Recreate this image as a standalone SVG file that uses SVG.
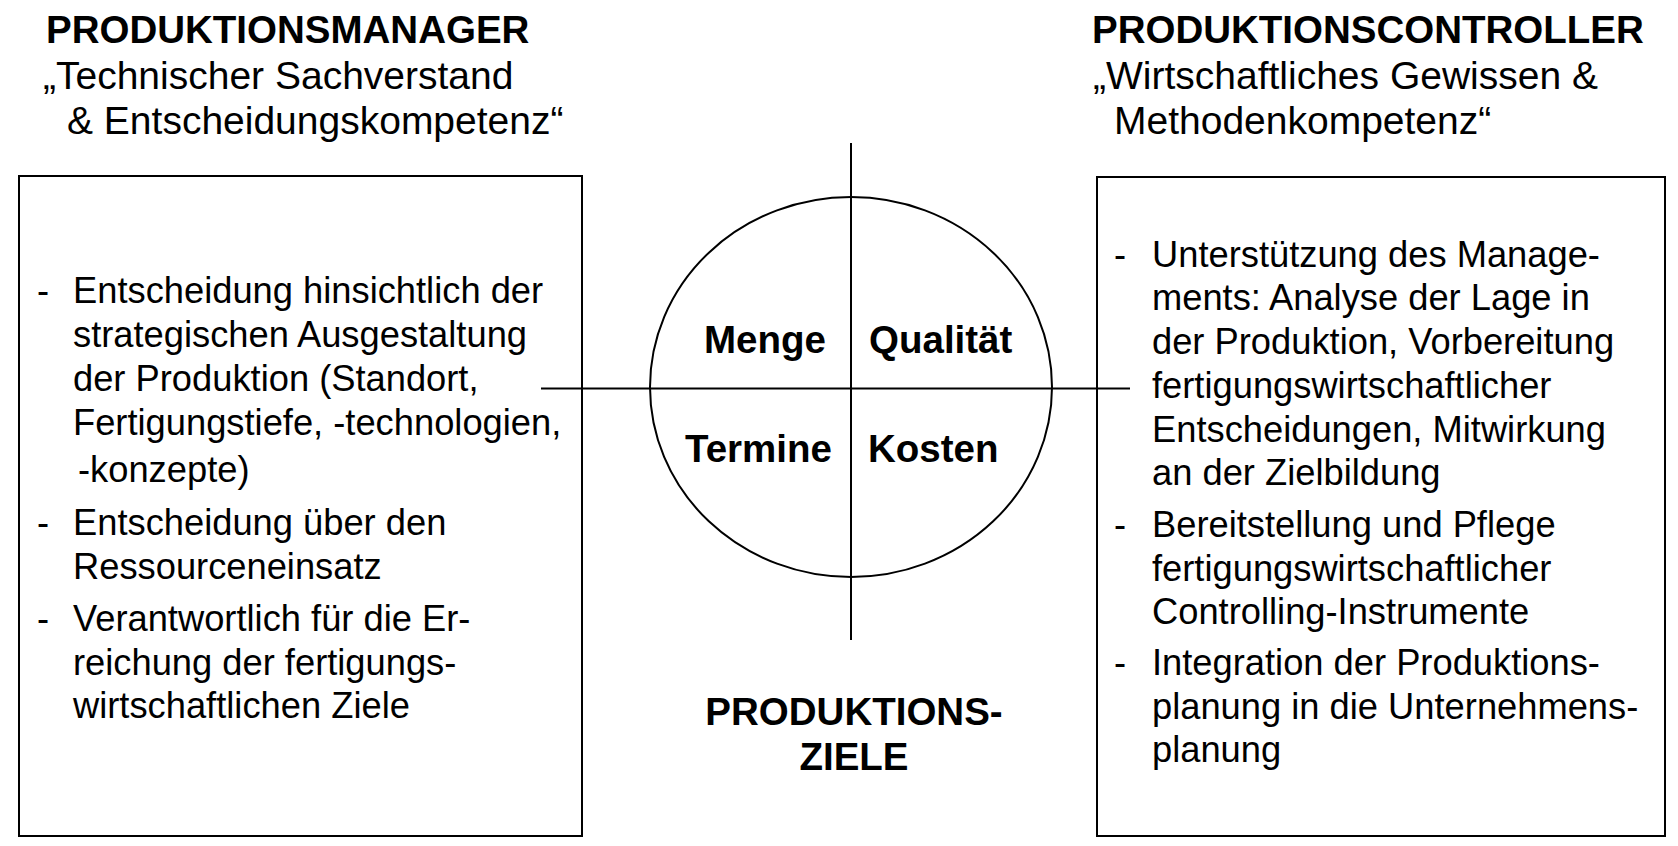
<svg xmlns="http://www.w3.org/2000/svg" width="1678" height="846" viewBox="0 0 1678 846">
<style>
text{font-family:"Liberation Sans",Arial,sans-serif;fill:#000}
.h{font-size:38.5px;font-weight:bold}
.s{font-size:39px}
.b{font-size:36.3px}
.q{font-size:38.5px;font-weight:bold}
.box{fill:none;stroke:#000;stroke-width:2}
.ln{fill:none;stroke:#000;stroke-width:2}
</style>
<rect width="1678" height="846" fill="#fff"/>
<g id="manager-header">
<text class="h" x="46" y="43">PRODUKTIONSMANAGER</text>
<text class="s" x="43" y="89">„Technischer Sachverstand</text>
<text class="s" x="67" y="134">&amp; Entscheidungskompetenz“</text>
</g>
<g id="controller-header">
<text class="h" x="1092" y="43">PRODUKTIONSCONTROLLER</text>
<text class="s" x="1093" y="89">„Wirtschaftliches Gewissen &amp;</text>
<text class="s" x="1114" y="134">Methodenkompetenz“</text>
</g>
<g id="connectors">
<line class="ln" x1="851" y1="143" x2="851" y2="640"/>
<line class="ln" x1="541" y1="388.5" x2="1130" y2="388.5"/>
</g>
<g id="manager-box">
<rect class="box" x="19" y="176" width="563" height="660"/>
<text class="b" x="37" y="303">-</text>
<text class="b" x="73" y="303">Entscheidung hinsichtlich der</text>
<text class="b" x="73" y="347">strategischen Ausgestaltung</text>
<text class="b" x="73" y="391">der Produktion (Standort,</text>
<text class="b" x="73" y="435">Fertigungstiefe, -technologien,</text>
<text class="b" x="78" y="482">-konzepte)</text>
<text class="b" x="37" y="535">-</text>
<text class="b" x="73" y="535">Entscheidung über den</text>
<text class="b" x="73" y="579">Ressourceneinsatz</text>
<text class="b" x="37" y="631">-</text>
<text class="b" x="73" y="631">Verantwortlich für die Er-</text>
<text class="b" x="73" y="675">reichung der fertigungs-</text>
<text class="b" x="73" y="718">wirtschaftlichen Ziele</text>
</g>
<g id="controller-box">
<rect class="box" x="1097" y="177" width="568" height="659"/>
<text class="b" x="1114" y="267">-</text>
<text class="b" x="1152" y="267">Unterstützung des Manage-</text>
<text class="b" x="1152" y="310">ments: Analyse der Lage in</text>
<text class="b" x="1152" y="354">der Produktion, Vorbereitung</text>
<text class="b" x="1152" y="398">fertigungswirtschaftlicher</text>
<text class="b" x="1152" y="442">Entscheidungen, Mitwirkung</text>
<text class="b" x="1152" y="485">an der Zielbildung</text>
<text class="b" x="1114" y="537">-</text>
<text class="b" x="1152" y="537">Bereitstellung und Pflege</text>
<text class="b" x="1152" y="581">fertigungswirtschaftlicher</text>
<text class="b" x="1152" y="624">Controlling-Instrumente</text>
<text class="b" x="1114" y="675">-</text>
<text class="b" x="1152" y="675">Integration der Produktions-</text>
<text class="b" x="1152" y="719">planung in die Unternehmens-</text>
<text class="b" x="1152" y="762">planung</text>
</g>
<g id="goals-ellipse">
<ellipse class="ln" cx="851" cy="387" rx="201" ry="190"/>
<text class="q" x="704" y="353">Menge</text>
<text class="q" x="869" y="353">Qualität</text>
<text class="q" x="685" y="462">Termine</text>
<text class="q" x="868" y="462">Kosten</text>
</g>
<g id="goals-title">
<text class="h" x="854" y="725" text-anchor="middle">PRODUKTIONS-</text>
<text class="h" x="854" y="770" text-anchor="middle">ZIELE</text>
</g>
</svg>
